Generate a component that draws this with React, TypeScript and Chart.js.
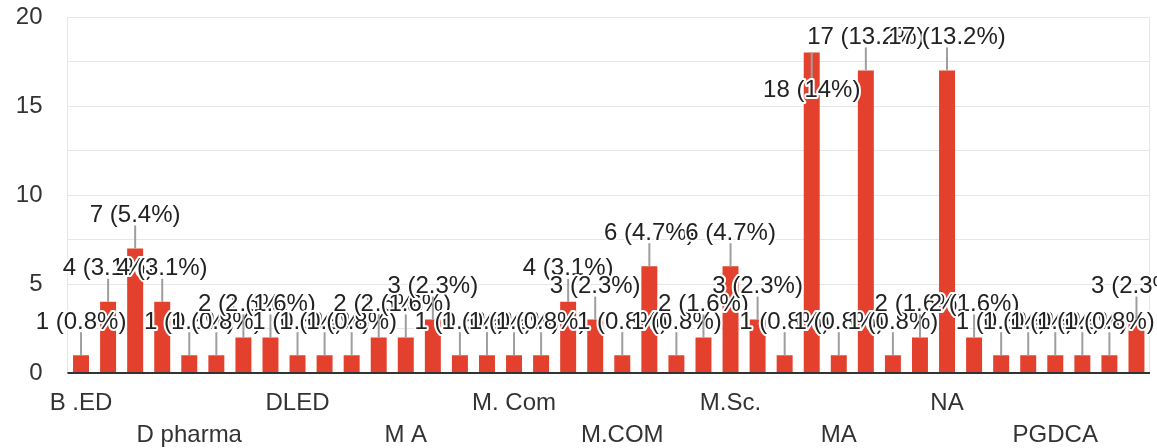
import React, { useEffect, useRef } from 'react';
import { Chart, registerables } from 'chart.js';

Chart.register(...registerables);

const FONT = 'Arial, "Liberation Sans", sans-serif';

// Categories (only every 4th label is legible in the reference)
const categories: string[] = [
  'B .ED', '', '', '',
  'D pharma', '', '', '',
  'DLED', '', '', '',
  'M A', '', '', '',
  'M. Com', '', '', '',
  'M.COM', '', '', '',
  'M.Sc.', '', '', '',
  'MA', '', '', '',
  'NA', '', '', '',
  'PGDCA', '', '', '',
];

const counts: number[] = [
  1, 4, 7, 4, 1, 1, 2, 2, 1, 1,
  1, 2, 2, 3, 1, 1, 1, 1, 4, 3,
  1, 6, 1, 2, 6, 3, 1, 18, 1, 17,
  1, 2, 17, 2, 1, 1, 1, 1, 1, 3,
];

const yTickLabels: number[] = [0, 5, 10, 15, 20];

const BAR_COLOR = '#e3402d';
const GRID_COLOR = '#e6e6e6';

const total = counts.reduce((a, b) => a + b, 0);

const labelPlugin = {
  id: 'annotLabels',
  beforeDatasetsDraw(chart: any) {
    const { ctx, chartArea } = chart;
    ctx.save();
    ctx.strokeStyle = GRID_COLOR;
    ctx.lineWidth = 1;
    ctx.beginPath();
    ctx.moveTo(Math.round(chartArea.right) - 0.5, chartArea.top);
    ctx.lineTo(Math.round(chartArea.right) - 0.5, chartArea.bottom);
    ctx.stroke();
    ctx.restore();
  },
  afterDatasetsDraw(chart: any) {
    const { ctx, chartArea } = chart;
    const meta = chart.getDatasetMeta(0);
    const y0 = chart.scales.y.getPixelForValue(0);
    ctx.save();
    // baseline
    ctx.strokeStyle = '#333333';
    ctx.lineWidth = 2;
    ctx.beginPath();
    ctx.moveTo(chartArea.left, y0);
    ctx.lineTo(chartArea.right, y0);
    ctx.stroke();

    ctx.font = `24px ${FONT}`;
    ctx.textAlign = 'center';
    ctx.textBaseline = 'middle';
    ctx.lineJoin = 'round';
    meta.data.forEach((el: any, i: number) => {
      const v = counts[i];
      const pct = parseFloat(((v / total) * 100).toFixed(1));
      const text = `${v} (${pct}%)`;
      const x = el.x;
      const top = el.y;
      let cy = top - 33;
      let lineFrom: number;
      if (cy - 14 < chartArea.top) {
        cy = top + 38;
        lineFrom = cy - 12;
      } else {
        lineFrom = cy + 10;
      }
      ctx.strokeStyle = '#9e9e9e';
      ctx.lineWidth = 2;
      ctx.beginPath();
      ctx.moveTo(x, lineFrom);
      ctx.lineTo(x, top);
      ctx.stroke();

      ctx.strokeStyle = '#ffffff';
      ctx.lineWidth = 4;
      ctx.strokeText(text, x, cy);
      ctx.fillStyle = '#222222';
      ctx.fillText(text, x, cy);
    });
    ctx.restore();
  },
};

export default function App() {
  const ref = useRef<HTMLCanvasElement | null>(null);

  useEffect(() => {
    if (!ref.current) return;
    Chart.defaults.font.family = FONT;
    const chart = new Chart(ref.current, {
      type: 'bar',
      data: {
        labels: categories,
        datasets: [
          {
            data: counts,
            backgroundColor: BAR_COLOR,
            barPercentage: 0.59,
            categoryPercentage: 1,
          },
        ],
      },
      options: {
        animation: false,
        responsive: true,
        maintainAspectRatio: false,
        layout: { padding: { left: 0, right: 7, top: 17, bottom: 0 } },
        plugins: {
          legend: { display: false },
          tooltip: { enabled: false },
        },
        scales: {
          x: {
            grid: { display: false, drawTicks: false },
            border: { display: false },
            ticks: {
              autoSkip: false,
              maxRotation: 0,
              minRotation: 0,
              padding: 14,
              color: '#333333',
              font: { size: 24, lineHeight: 1.333 },
              callback: (_v: any, i: number) => {
                const l = categories[i];
                if (!l) return '';
                return Math.floor(i / 4) % 2 === 1 ? ['', l] : l;
              },
            },
            afterFit: (s: any) => {
              s.height = 75;
              s.paddingLeft = 0;
              s.paddingRight = 0;
            },
          },
          y: {
            min: 0,
            max: 20,
            grid: {
              color: (c: any) => (c.tick && c.tick.value === 0 ? 'rgba(0,0,0,0)' : GRID_COLOR),
              drawTicks: false,
              lineWidth: 1,
            },
            border: { display: true, color: GRID_COLOR },
            ticks: {
              stepSize: 2.5,
              padding: 25,
              color: '#333333',
              font: { size: 24 },
              callback: (v: any) => (yTickLabels.includes(Number(v)) ? String(v) : ''),
            },
            afterFit: (s: any) => {
              s.width = 67.5;
              s.paddingTop = 0;
              s.paddingBottom = 0;
            },
          },
        },
      },
      plugins: [labelPlugin],
    });
    return () => chart.destroy();
  }, []);

  return (
    <div style={{ position: 'fixed', left: 0, top: 0, width: 1157, height: 448, background: '#fff' }}>
      <canvas ref={ref} />
    </div>
  );
}
